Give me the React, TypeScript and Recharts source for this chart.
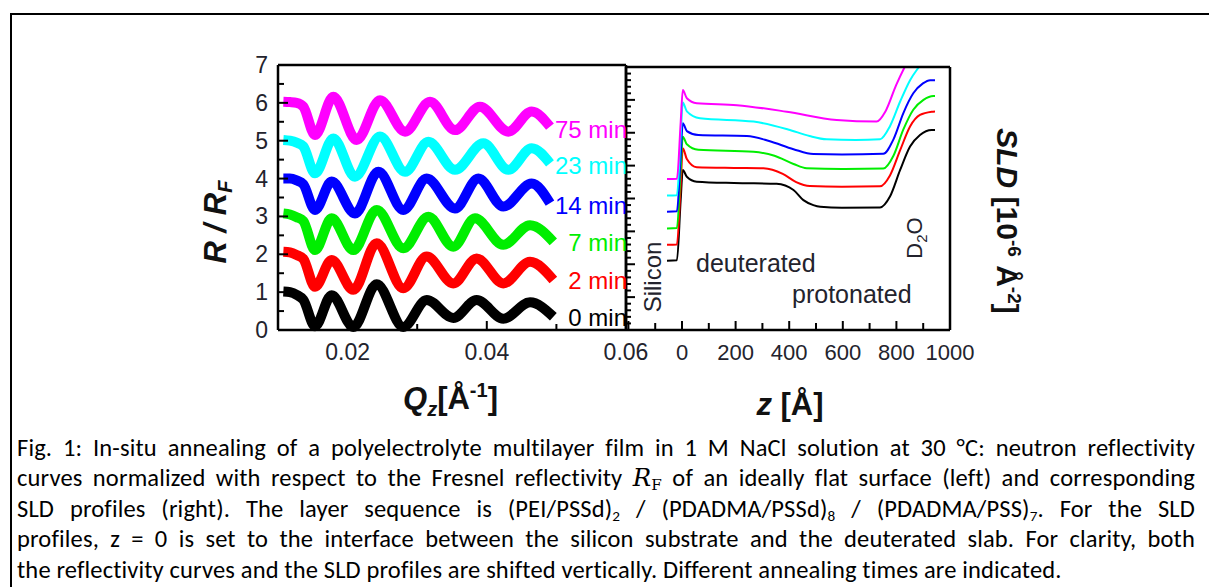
import React from 'react';
import { LineChart, Line, XAxis, YAxis } from 'recharts';

// ---------- Left panel: R / R_F vs Q_z (curves shifted by 1) ----------
const qBase = [0.01077, 0.01172, 0.01268, 0.01364, 0.01532, 0.01771, 0.02082, 0.02418, 0.02801, 0.03136, 0.03519, 0.03854, 0.04238, 0.04621, 0.04956];
const q7 = [0.01077, 0.01172, 0.01268, 0.01364, 0.01532, 0.01771, 0.02082, 0.02418, 0.02801, 0.0316, 0.03519, 0.0383, 0.04238, 0.04621, 0.04956];
const q14 = [0.01077, 0.01172, 0.01268, 0.01364, 0.01532, 0.01771, 0.02106, 0.02442, 0.02801, 0.03136, 0.03543, 0.03878, 0.04238, 0.04645, 0.04908];
const q23 = [0.01077, 0.01172, 0.01268, 0.01364, 0.01532, 0.01795, 0.02106, 0.02466, 0.02825, 0.0316, 0.03543, 0.0395, 0.04309, 0.04645, 0.04908];
const q75 = [0.01077, 0.01172, 0.01268, 0.01364, 0.01532, 0.01795, 0.0213, 0.02466, 0.02825, 0.03184, 0.03543, 0.03902, 0.04309, 0.04645, 0.04908];

const r0 = [1.02, 1.0, 0.93, 0.8, 0.1, 0.92, 0.08, 1.21, 0.08, 0.79, 0.32, 0.79, 0.3, 0.73, 0.35];
const r2 = [2.07, 2.05, 1.98, 1.88, 1.14, 1.85, 1.06, 2.29, 1.1, 1.94, 1.23, 1.89, 1.23, 1.8, 1.32];
const r7 = [3.08, 3.05, 2.98, 2.88, 2.11, 2.95, 2.11, 3.17, 2.16, 2.99, 2.2, 2.95, 2.25, 2.77, 2.33];
const r14 = [4.0, 4.0, 3.95, 3.85, 3.17, 3.92, 3.08, 4.18, 3.17, 4.0, 3.21, 4.0, 3.26, 3.87, 3.35];
const r23 = [5.02, 5.0, 4.95, 4.85, 4.14, 5.06, 4.05, 5.11, 4.18, 4.97, 4.23, 4.93, 4.23, 4.8, 4.4];
const r75 = [6.03, 6.02, 6.0, 5.9, 5.15, 6.16, 5.02, 6.07, 5.24, 6.03, 5.28, 5.9, 5.24, 5.77, 5.37];

const qTicks = [0.01, 0.02, 0.03, 0.04, 0.05, 0.06];
const qLabels = [0.02, 0.04, 0.06];
const rTicks = [0, 0.5, 1, 1.5, 2, 2.5, 3, 3.5, 4, 4.5, 5, 5.5, 6, 6.5, 7];
const rLabels = [0, 1, 2, 3, 4, 5, 6, 7];

// ---------- Right panel: SLD profiles vs z (shifted by 0.5) ----------
const z0 = [-56, -19, -5, 3, 18, 55, 194, 353, 416, 453, 490, 516, 597, 739, 776, 814, 851, 888, 932, 944];
const s0 = [2.11, 2.12, 3.95, 4.87, 4.66, 4.51, 4.47, 4.45, 4.26, 3.95, 3.8, 3.75, 3.72, 3.73, 4.06, 4.87, 5.58, 5.93, 6.08, 6.08];
const z2 = [-56, -19, -5, 3, 18, 55, 194, 304, 376, 426, 477, 597, 739, 776, 814, 851, 888, 932, 944];
const s2 = [2.59, 2.6, 4.4, 5.53, 5.2, 4.95, 4.93, 4.92, 4.75, 4.5, 4.38, 4.36, 4.37, 4.7, 5.47, 6.19, 6.54, 6.64, 6.65];
const z7 = [-56, -19, -5, 3, 18, 61, 267, 345, 416, 465, 597, 751, 789, 826, 863, 901, 938, 944];
const s7 = [3.09, 3.1, 4.9, 5.88, 5.65, 5.48, 5.42, 5.3, 5.05, 4.92, 4.9, 4.91, 5.3, 6.1, 6.7, 7.0, 7.12, 7.12];
const z14 = [-56, -19, -5, 3, 18, 61, 242, 325, 416, 490, 597, 751, 789, 826, 863, 899, 926, 944];
const s14 = [3.6, 3.61, 5.3, 6.29, 6.05, 5.93, 5.9, 5.75, 5.5, 5.35, 5.34, 5.36, 5.8, 6.6, 7.2, 7.5, 7.6, 7.6];
const z23 = [-56, -19, -5, 3, 18, 67, 267, 396, 476, 540, 648, 739, 776, 814, 851, 888, 930];
const s23 = [4.09, 4.1, 5.9, 6.92, 6.65, 6.44, 6.34, 6.1, 5.9, 5.8, 5.78, 5.8, 6.2, 6.95, 7.6, 8.05, 8.6];
const z75 = [-56, -19, -5, 3, 18, 55, 205, 391, 577, 726, 759, 799, 834, 870];
const s75 = [4.59, 4.6, 6.3, 7.3, 7.05, 6.9, 6.84, 6.64, 6.39, 6.34, 6.65, 7.45, 8.05, 8.6];

const zTicks = [-200, -100, 0, 100, 200, 300, 400, 500, 600, 700, 800, 900, 1000];
const zMajors = [-200, 0, 200, 400, 600, 800, 1000];
const zLabels = [0, 200, 400, 600, 800, 1000];
const sldTicks = [0, 0.2, 0.4, 0.6, 0.8, 1, 1.2, 1.4, 1.6, 1.8, 2, 2.2, 2.4, 2.6, 2.8, 3, 3.2, 3.4, 3.6, 3.8, 4, 4.2, 4.4, 4.6, 4.8, 5, 5.2, 5.4, 5.6, 5.8, 6, 6.2, 6.4, 6.6, 6.8, 7, 7.2, 7.4, 7.6, 7.8, 8];
const sldLabels = [0, 1, 2, 3, 4, 5, 6, 7, 8];

const timeLabels = ['0 min', '2 min', '7 min', '14 min', '23 min', '75 min'];
const colors = ['#000000', '#ff0000', '#00ee00', '#0000ff', '#00ffff', '#ff00ff'];

const toPts = (xs: number[], ys: number[]) => xs.map((x, i) => ({ x, y: ys[i] }));
const reflSeries = [toPts(qBase, r0), toPts(qBase, r2), toPts(q7, r7), toPts(q14, r14), toPts(q23, r23), toPts(q75, r75)];
const sldSeries = [toPts(z0, s0), toPts(z2, s2), toPts(z7, s7), toPts(z14, s14), toPts(z23, s23), toPts(z75, s75)];

const tickFont = '"Liberation Sans", Arial, sans-serif';
const tickColor = '#23232d';

type Side = 'left' | 'right' | 'top' | 'bottom';
const near = (arr: number[], v: number) => arr.some((a) => Math.abs(a - v) < 1e-6);

function makeTick(side: Side, labels: number[], majors: number[], majorLen: number, minorLen: number, gap: number, fontSize: number) {
  return (props: any) => {
    const x = Number(props.x);
    const y = Number(props.y);
    const v = Number(props.payload?.value);
    const len = near(majors, v) ? majorLen : minorLen;
    const lab = near(labels, v) ? String(v) : null;
    let line: React.ReactNode = null;
    let txt: React.ReactNode = null;
    const tp = { fontSize, fontFamily: tickFont, fill: tickColor };
    if (side === 'left') {
      line = <line x1={x} y1={y} x2={x + len} y2={y} stroke="#000" strokeWidth={2} />;
      if (lab) txt = <text x={x - gap} y={y} textAnchor="end" dominantBaseline="central" {...tp}>{lab}</text>;
    } else if (side === 'right') {
      line = <line x1={x} y1={y} x2={x - len} y2={y} stroke="#000" strokeWidth={2} />;
      if (lab) txt = <text x={x + gap} y={y} textAnchor="start" dominantBaseline="central" {...tp}>{lab}</text>;
    } else if (side === 'bottom') {
      line = <line x1={x} y1={y} x2={x} y2={y - len} stroke="#000" strokeWidth={2} />;
      if (lab) txt = <text x={x} y={y + gap} textAnchor="middle" dominantBaseline="central" {...tp}>{lab}</text>;
    } else {
      line = <line x1={x} y1={y} x2={x} y2={y + len} stroke="#000" strokeWidth={2} />;
    }
    return (
      <g>
        {len > 0 ? line : null}
        {txt}
      </g>
    );
  };
}

const axisLine = { stroke: '#000', strokeWidth: 2.5 };
const W = 1209;
const H = 420;

function LeftChart() {
  return (
    <LineChart width={W} height={H} margin={{ top: 64, right: W - 626 - 1, bottom: H - 330 - 1, left: 277 }}>
      <XAxis xAxisId="b" dataKey="x" type="number" domain={[0.01, 0.06]} ticks={qTicks} interval={0} orientation="bottom" height={1} tickSize={0} tickMargin={0} tickLine={false} axisLine={axisLine} tick={makeTick('bottom', qLabels, qLabels, 9, 6, 22, 23)} />
      <XAxis xAxisId="t" dataKey="x" type="number" domain={[0.01, 0.06]} ticks={qTicks} interval={0} orientation="top" height={1} tickSize={0} tickMargin={0} tickLine={false} axisLine={axisLine} tick={makeTick('top', [], qLabels, 10, 6, 0, 23)} />
      <YAxis yAxisId="l" type="number" domain={[0, 7]} ticks={rTicks} interval={0} orientation="left" width={1} tickSize={0} tickMargin={0} tickLine={false} axisLine={axisLine} tick={makeTick('left', rLabels, rLabels, 10, 6, 10, 23)} />
      <YAxis yAxisId="r" type="number" domain={[0, 7]} ticks={rTicks} interval={0} orientation="right" width={1} tickSize={0} tickMargin={0} tickLine={false} axisLine={axisLine} tick={false} />
      {reflSeries.map((d, i) => (
        <Line key={i} xAxisId="b" yAxisId="l" data={d} dataKey="y" type="monotone" stroke={colors[i]} strokeWidth={10} strokeLinejoin="round" dot={false} activeDot={false} isAnimationActive={false} />
      ))}
    </LineChart>
  );
}

function RightChart() {
  return (
    <LineChart width={W} height={H} margin={{ top: 66, right: W - 950 - 1, bottom: H - 330 - 1, left: 625 }}>
      <XAxis xAxisId="b" dataKey="x" type="number" domain={[-209, 1000]} ticks={zTicks} interval={0} orientation="bottom" height={1} tickSize={0} tickMargin={0} tickLine={false} axisLine={axisLine} tick={makeTick('bottom', zLabels, zMajors, 9, 7, 22, 22)} />
      <XAxis xAxisId="t" dataKey="x" type="number" domain={[-209, 1000]} ticks={zTicks} interval={0} orientation="top" height={1} tickSize={0} tickMargin={0} tickLine={false} axisLine={axisLine} tick={makeTick('top', [], zMajors, 10, 6, 0, 22)} />
      <YAxis yAxisId="l" type="number" domain={[0, 8]} allowDataOverflow ticks={sldTicks} interval={0} orientation="left" width={1} tickSize={0} tickMargin={0} tickLine={false} axisLine={axisLine} tick={makeTick('left', [], sldLabels, 9, 5, 0, 22)} />
      <YAxis yAxisId="r" type="number" domain={[0, 8]} ticks={sldTicks} interval={0} orientation="right" width={1} tickSize={0} tickMargin={0} tickLine={false} axisLine={axisLine} tick={makeTick('right', sldLabels, sldLabels, 9, 5, 9, 22)} />
      {sldSeries.map((d, i) => (
        <Line key={i} xAxisId="b" yAxisId="l" data={d} dataKey="y" type="monotone" stroke={colors[i]} strokeWidth={2} dot={false} activeDot={false} isAnimationActive={false} />
      ))}
    </LineChart>
  );
}

const labelY = [326, 289, 251, 214, 174, 138];
const titleFont = '"Liberation Sans", Arial, sans-serif';

function Overlay() {
  return (
    <svg width={W} height={587} style={{ position: 'absolute', left: 0, top: 0, pointerEvents: 'none' }}>
      {timeLabels.map((t, i) => (
        <text key={t} x={627} y={labelY[i]} textAnchor="end" fontSize={24} fontFamily={titleFont} fill={colors[i]}>{t}</text>
      ))}
      <text transform="translate(226,222) rotate(-90)" textAnchor="middle" fontSize={31} fontWeight="bold" fontStyle="italic" fontFamily={titleFont} fill="#111">
        R / R<tspan fontSize={20} dy={6}>F</tspan>
      </text>
      <text transform="translate(997,221) rotate(90)" textAnchor="middle" fontSize={30} fontWeight="bold" fontFamily={titleFont} fill="#111">
        <tspan fontStyle="italic">SLD</tspan> [10<tspan fontSize={19} dy={-11}>-6</tspan><tspan dy={11}> Å</tspan><tspan fontSize={19} dy={-11}>-2</tspan><tspan dy={11}>]</tspan>
      </text>
      <text x={403} y={409} fontSize={31} fontWeight="bold" fontFamily={titleFont} fill="#111">
        <tspan fontStyle="italic">Q</tspan><tspan fontStyle="italic" fontSize={20} dy={7}>z</tspan><tspan dy={-7}>[Å</tspan><tspan fontSize={20} dy={-12}>-1</tspan><tspan dy={12}>]</tspan>
      </text>
      <text x={790} y={415} textAnchor="middle" fontSize={31} fontWeight="bold" fontFamily={titleFont} fill="#111">
        <tspan fontStyle="italic">z</tspan> [Å]
      </text>
      <text transform="translate(661,277) rotate(-90)" textAnchor="middle" fontSize={24} fontFamily={titleFont} fill="#23232d">Silicon</text>
      <text x={696} y={272} fontSize={25} fontFamily={titleFont} fill="#23232d">deuterated</text>
      <text x={792} y={303} fontSize={25} fontFamily={titleFont} fill="#23232d">protonated</text>
      <text transform="translate(922,238) rotate(-90)" textAnchor="middle" fontSize={22} fontFamily={titleFont} fill="#23232d">
        D<tspan fontSize={15} dy={5}>2</tspan><tspan dy={-5}>O</tspan>
      </text>
    </svg>
  );
}

const capFont = 'Carlito, Calibri, Lato, "Open Sans", sans-serif';
const lineStyle: React.CSSProperties = { textAlign: 'justify', textAlignLast: 'justify', whiteSpace: 'nowrap', height: 30.4 };
const subStyle: React.CSSProperties = { fontSize: '0.62em', lineHeight: 0, verticalAlign: '-0.25em' };

function Caption() {
  return (
    <div style={{ position: 'absolute', left: 17, top: 433, width: 1178, fontFamily: capFont, fontSize: 24.5, letterSpacing: 0.15, lineHeight: '30.4px', color: '#000' }}>
      <div style={lineStyle}>Fig. 1: In-situ annealing of a polyelectrolyte multilayer film in 1 M NaCl solution at 30 °C: neutron reflectivity</div>
      <div style={lineStyle}>
        curves normalized with respect to the Fresnel reflectivity{' '}
        <span style={{ fontFamily: '"DejaVu Serif", "Liberation Serif", serif', fontStyle: 'italic' }}>R</span>
        <span style={{ ...subStyle, fontFamily: '"DejaVu Serif", "Liberation Serif", serif' }}>F</span> of an ideally flat surface (left) and corresponding
      </div>
      <div style={lineStyle}>
        SLD profiles (right). The layer sequence is (PEI/PSSd)<span style={subStyle}>2</span> / (PDADMA/PSSd)<span style={subStyle}>8</span> / (PDADMA/PSS)<span style={subStyle}>7</span>. For the SLD
      </div>
      <div style={lineStyle}>profiles, z = 0 is set to the interface between the silicon substrate and the deuterated slab. For clarity, both</div>
      <div style={{ whiteSpace: 'nowrap', height: 30.4 }}>the reflectivity curves and the SLD profiles are shifted vertically. Different annealing times are indicated.</div>
    </div>
  );
}

function Frame() {
  return (
    <>
      <div style={{ position: 'absolute', left: 10, top: 12.8, width: 163, height: 2.5, background: '#000' }} />
      <div style={{ position: 'absolute', left: 173, top: 13.4, width: 890, height: 1.2, background: '#000' }} />
      <div style={{ position: 'absolute', left: 1063, top: 12.8, width: 146, height: 2.5, background: '#000' }} />
      <div style={{ position: 'absolute', left: 10, top: 12.8, width: 2.3, height: 587 - 12.8, background: '#000' }} />
    </>
  );
}

export default function App() {
  return (
    <div style={{ position: 'absolute', left: 0, top: 0, width: W, height: 587, overflow: 'hidden', background: '#fff' }}>
      <Frame />
      <div style={{ position: 'absolute', left: 0, top: 0 }}>
        <LeftChart />
      </div>
      <div style={{ position: 'absolute', left: 0, top: 0 }}>
        <RightChart />
      </div>
      <Overlay />
      <Caption />
    </div>
  );
}
